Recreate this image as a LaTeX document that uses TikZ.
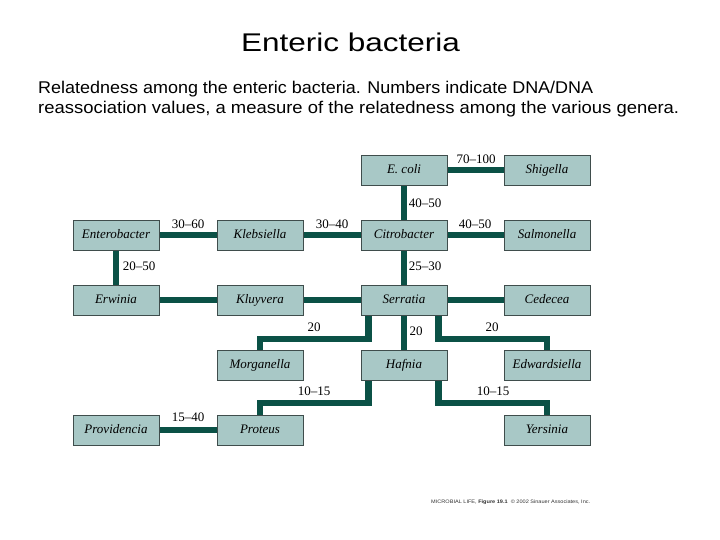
\documentclass[tikz,border=0pt]{standalone}
\usepackage{fontspec}
\setmainfont{Liberation Serif}
\newfontfamily\arialf{Liberation Sans}
\usepackage{graphicx}
\usetikzlibrary{backgrounds}
\definecolor{boxfill}{HTML}{A8C8C6}
\definecolor{boxline}{HTML}{3F4D4C}
\definecolor{conncol}{HTML}{0B5146}
\definecolor{footcol}{HTML}{333333}
\begin{document}
\begin{tikzpicture}[x=1pt,y=-1pt,
  genus/.style={draw=boxline, line width=0.9pt, fill=boxfill, minimum width=86pt, minimum height=30pt, inner sep=0pt, text height=9.5pt, text depth=3pt, font=\fontsize{13}{15}\selectfont\itshape},
  conn/.style={draw=conncol, line width=6.5pt, line join=miter},
  lbl/.style={inner sep=0pt, font=\fontsize{13}{15}\selectfont},
  sanstext/.style={inner sep=0pt, anchor=base west}]
\useasboundingbox (0,0) rectangle (720,540);

% title and description
\node[inner sep=0pt, anchor=base, font=\arialf\fontsize{25.6}{30}\selectfont] (title) at (350.5,52) {\resizebox{219pt}{\height}{Enteric bacteria}};
\node[sanstext, font=\arialf\fontsize{17}{20}\selectfont] (desc1) at (38,94) {\resizebox{555pt}{\height}{Relatedness among the enteric bacteria. Numbers indicate DNA/DNA}};
\node[sanstext, font=\arialf\fontsize{17}{20}\selectfont] (desc2) at (38,113.5) {\resizebox{641pt}{\height}{reassociation values, a measure of the relatedness among the various genera.}};
\node[sanstext, text=footcol, font=\arialf\fontsize{5}{6}\selectfont] (foot) at (431,503) {\resizebox{159pt}{\height}{MICROBIAL LIFE, \textbf{Figure 19.1} \ © 2002 Sinauer Associates, Inc.}};

% genera
\node[genus] (ecoli) at (404,170) {E. coli};
\node[genus] (shigella) at (547,170) {Shigella};
\node[genus] (enterobacter) at (116,235) {Enterobacter};
\node[genus] (klebsiella) at (260,235) {Klebsiella};
\node[genus] (citrobacter) at (404,235) {Citrobacter};
\node[genus] (salmonella) at (547,235) {Salmonella};
\node[genus] (erwinia) at (116,300) {Erwinia};
\node[genus] (kluyvera) at (260,300) {Kluyvera};
\node[genus] (serratia) at (404,300) {Serratia};
\node[genus] (cedecea) at (547,300) {Cedecea};
\node[genus] (morganella) at (260,365) {Morganella};
\node[genus] (hafnia) at (404,365) {Hafnia};
\node[genus] (edwardsiella) at (547,365) {Edwardsiella};
\node[genus] (providencia) at (116,430) {Providencia};
\node[genus] (proteus) at (260,430) {Proteus};
\node[genus] (yersinia) at (547,430) {Yersinia};

\coordinate (jm) at (260,339);
\coordinate (je) at (547,339);
\coordinate (jp) at (260,403);
\coordinate (jy) at (547,403);

\begin{scope}[on background layer]
\fill[white] (0,0) rectangle (720,540);
\draw[conn] (ecoli) -- (shigella);
\draw[conn] (ecoli) -- (citrobacter);
\draw[conn] (enterobacter) -- (klebsiella);
\draw[conn] (klebsiella) -- (citrobacter);
\draw[conn] (citrobacter) -- (salmonella);
\draw[conn] (enterobacter) -- (erwinia);
\draw[conn] (citrobacter) -- (serratia);
\draw[conn] (erwinia) -- (kluyvera);
\draw[conn] (kluyvera) -- (serratia);
\draw[conn] (serratia) -- (cedecea);
\draw[conn] (serratia) -- (hafnia);
\draw[conn] ([xshift=8pt]serratia.south west) |- (jm) -- (morganella.north);
\draw[conn] ([xshift=-9pt]serratia.south east) |- (je) -- (edwardsiella.north);
\draw[conn] ([xshift=8pt]hafnia.south west) |- (jp) -- (proteus.north);
\draw[conn] ([xshift=-9pt]hafnia.south east) |- (jy) -- (yersinia.north);
\draw[conn] (providencia) -- (proteus);
\end{scope}

% values
\node[lbl] (l1) at (476,159) {70--100};
\node[lbl] (l2) at (425,203) {40--50};
\node[lbl] (l3) at (188,224) {30--60};
\node[lbl] (l4) at (332,224) {30--40};
\node[lbl] (l5) at (475,224) {40--50};
\node[lbl] (l6) at (139,266) {20--50};
\node[lbl] (l7) at (425,266) {25--30};
\node[lbl] (l8) at (314,327) {20};
\node[lbl] (l9) at (416,331) {20};
\node[lbl] (l10) at (492,327) {20};
\node[lbl] (l11) at (314,391) {10--15};
\node[lbl] (l12) at (493,391) {10--15};
\node[lbl] (l13) at (188,417) {15--40};
\end{tikzpicture}
\end{document}
